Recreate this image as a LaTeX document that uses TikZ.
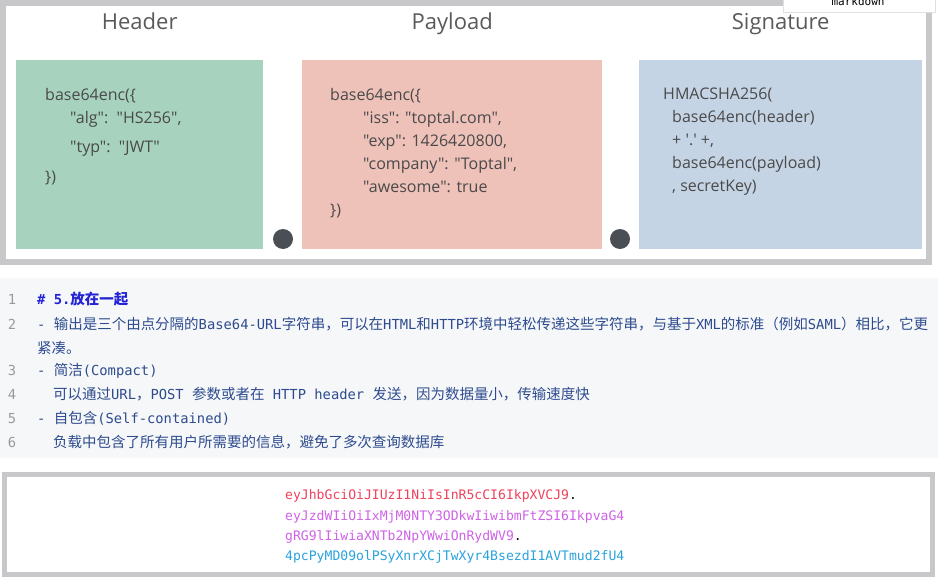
\documentclass[tikz,border=0pt]{standalone}
\usepackage{fontspec}
\setmainfont{Open Sans}[Ligatures=TeXOff]
\setmonofont{DejaVu Sans Mono}
\newfontfamily\cjk{Noto Sans CJK SC}[Scale=1.05]
\newcommand\zh[1]{{\cjk #1}}
\usepackage{xcolor}
\definecolor{frameGray}  {HTML}{C8C8CA}
\definecolor{headBack}   {HTML}{A6D2BE}
\definecolor{loadBack}   {HTML}{EEC1B9}
\definecolor{signBack}   {HTML}{C5D4E5}
\definecolor{jointGray}  {HTML}{4A4E55}
\definecolor{titleText}  {HTML}{5A5A5A}
\definecolor{boxText}    {HTML}{4A4A4A}
\definecolor{codeBack}   {HTML}{F6F7F9}
\definecolor{lineNum}    {HTML}{9A9A9A}
\definecolor{mdHead}     {HTML}{2323D6}
\definecolor{mdText}     {HTML}{2D4B8E}
\definecolor{jwtRed}     {HTML}{F0415C}
\definecolor{jwtPurple}  {HTML}{CF62E6}
\definecolor{jwtBlue}    {HTML}{2AA3DC}
\usetikzlibrary{positioning}
\tikzset{
    shotframe/.style={draw=frameGray, line width=6pt},
    part/.style={rectangle, draw=none, anchor=north west, minimum height=189pt,
                 inner sep=0pt},
    parttitle/.style={font=\fontsize{22}{26}\selectfont, text=titleText},
    parttext/.style={align=left, inner sep=0pt, font=\fontsize{16}{23}\selectfont,
                     text=boxText},
    joint/.style={circle, fill=jointGray, minimum size=20pt, inner sep=0pt},
    lineno/.style={anchor=base, inner sep=0pt, font=\fontsize{13.8}{16}\ttfamily,
                   text=lineNum},
    mdline/.style={anchor=base west, inner sep=0pt, font=\fontsize{13.8}{16}\ttfamily,
                   text=mdText},
    jwtline/.style={anchor=base west, inner sep=0pt, font=\fontsize{13.1}{16}\ttfamily},
    mdtab/.style={rectangle, fill=white, draw=black!12, anchor=north west,
                  minimum width=152pt, minimum height=13pt, inner sep=0pt},
}

\begin{document}
\begin{tikzpicture}[x=1pt, y=-1pt]
    \useasboundingbox[fill=white] (0,0) rectangle (950,586);
    \draw[shotframe] (3,3) rectangle (929,262);
    \node[mdtab] (tab) at (783,-1) {};
    \node[anchor=base, inner sep=0pt, font=\fontsize{11}{13}\ttfamily] (tabtxt) at (858,6) {markdown};

    \node[part, fill=headBack, minimum width=247pt] (hdr) at (16,60) {};
    \node[part, fill=loadBack, minimum width=300pt] (pld) at (302,60) {};
    \node[part, fill=signBack, minimum width=283pt] (sig) at (639,60) {};
    \node[joint] (j1) at (283,239) {};
    \node[joint] (j2) at (620,239) {};

    \node[parttitle, above=30pt of hdr.north, anchor=base] (hdrT) {Header};
    \node[parttitle, above=30pt of pld.north, anchor=base] (pldT) {Payload};
    \node[parttitle, above=30pt of sig.north, anchor=base] (sigT) {Signature};

    \node[parttext, below right=28pt and 29pt of hdr.north west] (hdrX)
        {base64enc(\{\\
         \hspace*{25pt}"alg":\ \ "HS256",\\[6pt]
         \hspace*{25pt}"typ":\ \ "JWT"\\[7pt]
         \})};
    \node[parttext, below right=28pt and 28pt of pld.north west] (pldX)
        {base64enc(\{\\
         \hspace*{33pt}"iss": "toptal.com",\\
         \hspace*{33pt}"exp": 1426420800,\\
         \hspace*{33pt}"company": "Toptal",\\
         \hspace*{33pt}"awesome": true\\
         \})};
    \node[parttext, below right=28pt and 24pt of sig.north west] (sigX)
        {HMACSHA256(\\
         \hspace*{9pt}base64enc(header)\\
         \hspace*{9pt}+ \textquotesingle.\textquotesingle\ +,\\
         \hspace*{9pt}base64enc(payload)\\
         \hspace*{9pt}, secretKey)};

    \fill[codeBack] (0,278) rectangle (938,458);
    \foreach \n/\y in {1/304, 2/329, 3/375, 4/399, 5/423, 6/447}
        \node[lineno] (n\n) at (12,\y) {\n};
    \node[mdline, text=mdHead, font=\fontsize{13.8}{16}\ttfamily\bfseries] (m1) at (37,304)
        {\# 5.\zh{放在一起}};
    \node[mdline] (m2) at (37,329)
        {- \zh{输出是三个由点分隔的}Base64-URL\zh{字符串，可以在}HTML\zh{和}HTTP\zh{环境中轻松传递这些字符串，与基于}XML\zh{的标准（例如}SAML\zh{）相比，它更}};
    \node[mdline] (m2b) at (37,353) {\zh{紧凑。}};
    \node[mdline] (m3) at (37,375) {- \zh{简洁}(Compact)};
    \node[mdline] (m4) at (53,399)
        {\zh{可以通过}URL\zh{，}POST \zh{参数或者在} HTTP header \zh{发送，因为数据量小，传输速度快}};
    \node[mdline] (m5) at (37,423) {- \zh{自包含}(Self-contained)};
    \node[mdline] (m6) at (53,447) {\zh{负载中包含了所有用户所需要的信息，避免了多次查询数据库}};

    \draw[shotframe, line width=5pt, fill=white] (4.5,474.5) rectangle (932.5,574.5);
    \node[jwtline] (t1) at (285,499)
        {\textcolor{jwtRed}{eyJhbGciOiJIUzI1NiIsInR5cCI6IkpXVCJ9}.};
    \node[jwtline, text=jwtPurple] (t2) at (285,520)
        {eyJzdWIiOiIxMjM0NTY3ODkwIiwibmFtZSI6IkpvaG4};
    \node[jwtline] (t3) at (285,540)
        {\textcolor{jwtPurple}{gRG9lIiwiaXNTb2NpYWwiOnRydWV9}.};
    \node[jwtline, text=jwtBlue] (t4) at (285,560)
        {4pcPyMD09olPSyXnrXCjTwXyr4BsezdI1AVTmud2fU4};
\end{tikzpicture}
\end{document}
